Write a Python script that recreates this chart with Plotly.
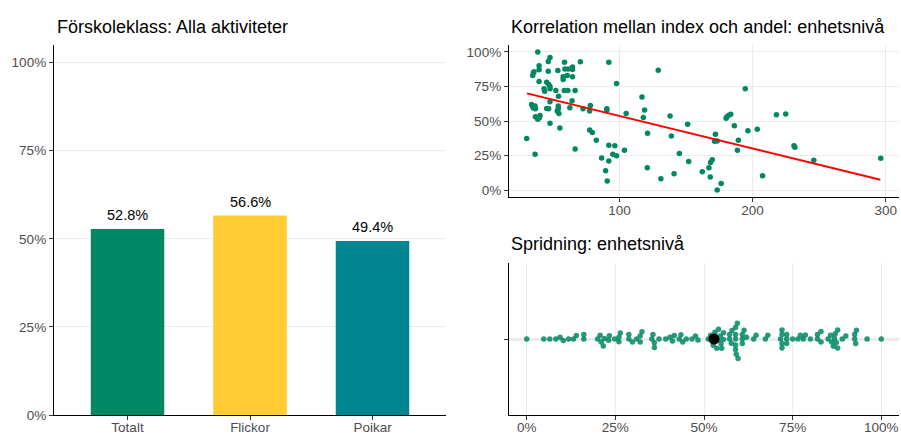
import numpy as np
import plotly.graph_objects as go

# ---- data ----
GROUPS = ['Totalt', 'Flickor', 'Poikar']
GROUP_SHARE = [0.528, 0.566, 0.494]
GROUP_COLORS = ['#008763', '#FFCC33', '#008591']

# unit level: index value vs share (andel)
UNIT_INDEX = [30.3, 38.6, 34.8, 35.3, 35.8, 39.6, 39.6, 39.6, 46.5, 47.8,
              46.5, 45.3, 46.8, 47.8, 43.3, 43.8, 47.8, 52.2, 53.7, 58.7,
              59.0, 61.4, 64.7, 64.7, 57.7, 57.7, 60.7, 64.7, 70.6, 58.5,
              61.2, 66.7, 54.2, 47.8, 64.4, 34.0, 34.6, 35.3, 36.6, 36.8,
              45.3, 46.8, 54.0, 54.0, 53.2, 54.5, 62.7, 36.8, 38.6, 40.3,
              39.8, 47.8, 55.2, 36.6, 66.7, 72.6, 78.1, 77.6, 77.6, 79.6,
              82.6, 86.6, 89.6, 90.8, 92.0, 90.5, 90.5, 92.0, 92.0, 95.0,
              96.5, 97.8, 97.8, 103.7, 105.0, 116.9, 117.9, 118.9, 121.1, 120.9,
              129.1, 131.1, 138.0, 139.0, 141.0, 145.0, 151.2, 152.0, 162.2, 167.2,
              168.2, 168.4, 169.7, 172.1, 171.4, 173.4, 173.4, 176.4, 180.1, 180.8,
              182.1, 183.6, 186.3, 188.6, 189.3, 194.5, 196.5, 203.5, 207.5, 217.9,
              224.9, 231.1, 231.8, 246.0, 296.3]
UNIT_SHARE = [0.373, 1.000, 0.830, 0.850, 0.857, 0.900, 0.870, 0.786, 0.930, 0.960,
              0.860, 0.780, 0.765, 0.750, 0.733, 0.716, 0.733, 0.720, 0.865, 0.925,
              0.877, 0.877, 0.890, 0.873, 0.820, 0.800, 0.830, 0.820, 0.928, 0.720,
              0.720, 0.720, 0.680, 0.640, 0.647, 0.620, 0.608, 0.594, 0.608, 0.589,
              0.591, 0.589, 0.608, 0.589, 0.572, 0.555, 0.596, 0.531, 0.512, 0.540,
              0.524, 0.483, 0.450, 0.260, 0.298, 0.589, 0.613, 0.572, 0.435, 0.416,
              0.360, 0.233, 0.140, 0.065, 0.925, 0.589, 0.577, 0.325, 0.210, 0.260,
              0.320, 0.248, 0.772, 0.288, 0.555, 0.673, 0.526, 0.579, 0.411, 0.161,
              0.868, 0.082, 0.536, 0.392, 0.118, 0.264, 0.476, 0.207, 0.132, 0.161,
              0.094, 0.200, 0.219, 0.404, 0.353, 0.356, 0.000, 0.048, 0.519, 0.531,
              0.541, 0.548, 0.466, 0.288, 0.360, 0.733, 0.430, 0.440, 0.103, 0.546,
              0.550, 0.320, 0.310, 0.216, 0.231]

# linear trend
TREND_X = [30.5, 296.0]
TREND_Y = [0.700, 0.075]

MEAN_SHARE = 0.528

GREEN = '#008763'
FONT = 'Liberation Sans, Arial, sans-serif'
TICK_COLOR = '#4D4D4D'
GRID = '#EBEBEB'
W, H = 901, 434


def swarm_offsets(values, sx, sy, d):
    """Simple beeswarm: place points in pixel space, return y offsets in data units."""
    order = np.argsort(values)
    placed = []
    offs = np.zeros(len(values))
    for i in order:
        xp = values[i] * sx
        cands = [0.0]
        for px, py in placed:
            dx = xp - px
            if abs(dx) < d:
                h = np.sqrt(d * d - dx * dx)
                cands += [py + h, py - h]
        cands.sort(key=abs)
        for c in cands:
            if all((xp - px) ** 2 + (c - py) ** 2 >= d * d - 1e-6 for px, py in placed):
                break
        placed.append((xp, c))
        offs[i] = c / sy
    return offs


def px_x(p):
    return p / W


def px_y(p):
    return (H - p) / H


fig = go.Figure()

# ---- left: bar chart ----
fig.add_trace(go.Bar(
    x=GROUPS, y=GROUP_SHARE,
    marker_color=GROUP_COLORS, marker_line_width=0,
    xaxis='x', yaxis='y',
))
for g, v in zip(GROUPS, GROUP_SHARE):
    fig.add_annotation(
        x=g, y=v, xref='x', yref='y', text=f'{v:.1%}',
        showarrow=False, yanchor='bottom', yshift=4,
        font=dict(size=14.5, color='black', family=FONT),
    )

# ---- right top: scatter with trend ----
fig.add_trace(go.Scatter(
    x=UNIT_INDEX, y=UNIT_SHARE, mode='markers',
    marker=dict(color=GREEN, size=5.5),
    xaxis='x2', yaxis='y2',
))
fig.add_trace(go.Scatter(
    x=TREND_X, y=TREND_Y, mode='lines',
    line=dict(color='#FF0000', width=2),
    xaxis='x2', yaxis='y2',
))

# ---- right bottom: beeswarm ----
dom_w = 390.0
dom_h = 152.0
sx = dom_w / 1.1
sy = dom_h / 2.0
offs = swarm_offsets(np.array(UNIT_SHARE), sx, sy, 4.6)
fig.add_trace(go.Scatter(
    x=UNIT_SHARE, y=offs, mode='markers',
    marker=dict(color=GREEN, size=5.5, opacity=0.85),
    xaxis='x3', yaxis='y3',
))
fig.add_trace(go.Scatter(
    x=[MEAN_SHARE], y=[0], mode='markers',
    marker=dict(color='black', size=11),
    xaxis='x3', yaxis='y3',
))

axis_common = dict(
    showline=True, linecolor='black', linewidth=1.3,
    ticks='outside', ticklen=4, tickcolor='#333333', tickwidth=1,
    tickfont=dict(size=13.5, color=TICK_COLOR, family=FONT),
    zeroline=False, gridcolor=GRID, gridwidth=1.2, automargin=False,
)

fig.update_layout(
    width=W, height=H,
    margin=dict(l=0, r=0, t=0, b=0, pad=0),
    paper_bgcolor='white', plot_bgcolor='white',
    showlegend=False,
    bargap=0.4,
    font=dict(family=FONT),
    xaxis=dict(domain=[px_x(54), px_x(446)], range=[-0.6, 2.6],
               showgrid=False, anchor='y', ticklabelstandoff=-4, **axis_common),
    yaxis=dict(domain=[px_y(415), px_y(45)], range=[0, 1.05],
               tickvals=[0, 0.25, 0.5, 0.75, 1], tickformat='.0%',
               showgrid=True, anchor='x', **axis_common),
    xaxis2=dict(domain=[px_x(509), px_x(899)], range=[17, 310],
                tickvals=[100, 200, 300], showgrid=True, anchor='y2',
                ticklabelstandoff=-3, **axis_common),
    yaxis2=dict(domain=[px_y(197), px_y(45)], range=[-0.05, 1.05],
                tickvals=[0, 0.25, 0.5, 0.75, 1], tickformat='.0%',
                showgrid=True, anchor='x2', **axis_common),
    xaxis3=dict(domain=[px_x(509), px_x(899)], range=[-0.05, 1.05],
                tickvals=[0, 0.25, 0.5, 0.75, 1], tickformat='.0%',
                showgrid=True, anchor='y3', ticklabelstandoff=-4, **axis_common),
    yaxis3=dict(domain=[px_y(415), px_y(263)], range=[-1, 1],
                tickvals=[0], ticktext=[''], showgrid=True, anchor='x3', **axis_common),
)
fig.update_layout(yaxis3_gridwidth=3)

titles = [
    ('Förskoleklass: Alla aktiviteter', 55, 27),
    ('Korrelation mellan index och andel: enhetsnivå', 509, 27),
    ('Spridning: enhetsnivå', 509, 244),
]
for text, x, y in titles:
    fig.add_annotation(
        text=text, x=px_x(x), y=px_y(y), xref='paper', yref='paper',
        xanchor='left', yanchor='middle', showarrow=False,
        font=dict(size=18, color='black', family=FONT),
    )

fig.write_html('out.html',
               config={'displayModeBar': False},
               post_script="document.body.style.margin='0px';"
                           "document.body.style.overflow='hidden';")
